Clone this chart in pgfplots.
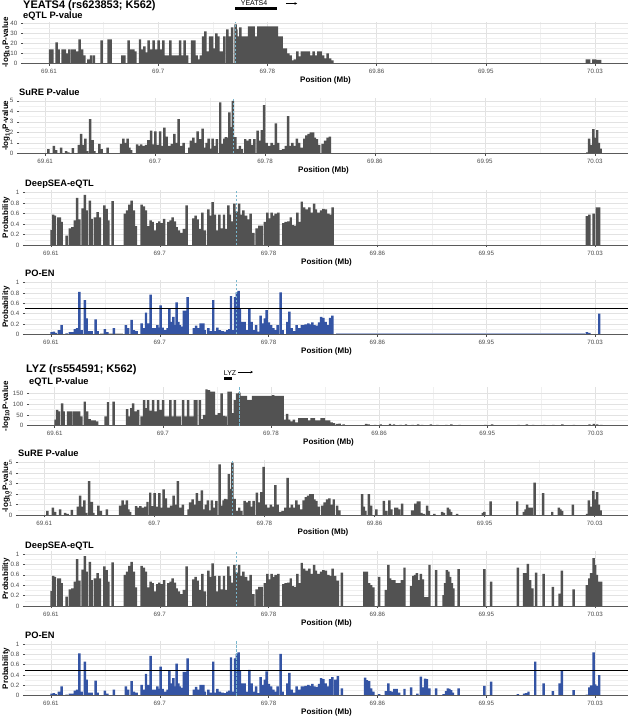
\documentclass[border=0pt]{standalone}
\usepackage{fontspec}
\setmainfont{Liberation Sans}
\usepackage{pgfplots}
\usepackage{pgfplotstable}
\pgfplotsset{compat=1.18}
\usetikzlibrary{arrows.meta}

\definecolor{bargray}{RGB}{82,82,82}
\definecolor{poblue}{RGB}{52,84,164}
\definecolor{gridmaj}{RGB}{226,226,226}
\definecolor{gridmin}{RGB}{240,240,240}
\definecolor{tickcol}{RGB}{77,77,77}
\definecolor{dashcol}{RGB}{120,182,205}
\definecolor{axcol}{RGB}{90,90,90}

% ---------------- eQTL YEATS4 ----------------
\pgfplotstableread{
x y
69.6108 14
69.6126 14
69.6159 21
69.6175 14
69.6205 14
69.6223 14
69.6241 10
69.6257 14
69.6280 14
69.6298 14
69.6318 12
69.6336 24
69.6354 14
69.6372 8
69.6403 4
69.6423 8
69.6446 8
69.6505 23
69.6559 24
69.6575 24
69.6664 8
69.6680 8
69.6713 23
69.6728 14
69.6749 14
69.6764 12
69.6800 24
69.6816 14
69.6834 17
69.6852 11
69.6867 23
69.6885 14
69.6905 23
69.6923 14
69.6944 23
69.6964 14
69.6980 23
69.6998 8
69.7016 8
69.7034 23
69.7052 8
69.7069 8
69.7087 8
69.7108 23
69.7128 8
69.7144 23
69.7162 8
69.7200 23
69.7218 23
69.7236 8
69.7254 4
69.7269 8
69.7285 27
69.7303 32
69.7321 12
69.7339 27
69.7354 27
69.7369 15
69.7387 30
69.7403 27
69.7418 12
69.7436 12
69.7449 27
69.7472 34
69.7490 27
69.7508 36
69.7535 39
69.7541 34
69.7557 27
69.7572 36
69.7590 27
69.7605 27
69.7621 27
69.7639 37
69.7657 37
69.7675 37
69.7693 27
69.7710 37
69.7728 37
69.7746 37
69.7764 37
69.7782 37
69.7800 37
69.7818 37
69.7836 37
69.7854 37
69.7872 27
69.7890 27
69.7905 15
69.7923 15
69.7941 10
69.7959 8
69.7975 3
69.7992 4
69.8010 12
69.8028 7
69.8046 12
69.8064 12
69.8082 12
69.8100 12
69.8118 8
69.8136 12
69.8154 8
69.8172 12
69.8190 12
69.8208 8
69.8226 5
69.8244 10
69.8262 5
69.8280 3
70.0237 4
70.0255 4
70.0288 4
70.0301 4
70.0320 3.5
70.0340 3.5
}\eqtlY

% ---------------- eQTL LYZ ----------------
\pgfplotstableread{
x y
69.6107 28
69.6118 73
69.6133 66
69.6157 104
69.6170 66
69.6203 66
69.6224 66
69.6247 66
69.6268 66
69.6289 66
69.6307 43
69.6333 112
69.6351 66
69.6372 31
69.6393 25
69.6411 25
69.6429 20
69.6496 43
69.6514 109
69.6558 112
69.6662 77
69.6678 43
69.6696 81
69.6709 104
69.6727 66
69.6748 73
69.6774 43
69.6794 119
69.6807 81
69.6825 119
69.6844 70
69.6864 119
69.6882 66
69.6903 119
69.6921 73
69.6942 119
69.6963 43
69.6981 43
69.6999 119
69.7015 43
69.7033 119
69.7051 43
69.7072 43
69.7098 119
69.7116 43
69.7136 119
69.7155 43
69.7170 43
69.7188 119
69.7201 119
69.7227 119
69.7248 31
69.7261 50
69.7279 168
69.7297 165
69.7318 158
69.7336 158
69.7357 50
69.7375 58
69.7396 150
69.7414 46
69.7427 43
69.7450 158
69.7466 158
69.7481 58
69.7499 119
69.7517 150
69.7535 153
69.7551 138
69.7569 138
69.7585 138
69.7603 119
69.7621 119
69.7642 138
69.7663 138
69.7681 138
69.7699 138
69.7720 138
69.7740 138
69.7759 138
69.7777 138
69.7797 142
69.7816 138
69.7834 138
69.7854 138
69.7870 138
69.7888 28
69.7906 55
69.7922 28
69.7940 20
69.7958 28
69.7979 15
69.8000 35
69.8018 35
69.8036 35
69.8057 35
69.8077 25
69.8095 35
69.8114 35
69.8134 25
69.8155 25
69.8173 35
69.8191 35
69.8212 25
69.8233 25
69.8251 15
69.8269 12
69.8293 9
69.8314 10
69.8345 6
69.8520 8
69.8538 6
69.8589 4
69.8633 6
69.8705 8
69.8736 6
69.8787 4
69.8829 6
69.8880 4
69.8924 6
69.8955 4
69.9022 6
69.9073 4
69.9143 4
69.9181 6
69.9246 4
69.9446 4
69.9498 6
69.9704 4
69.9768 6
69.9817 4
69.9902 4
69.9974 4
70.0044 6
70.0134 4
70.0255 6
70.0288 8
70.0314 6
70.0347 4
}\eqtlL

% ---------------- SuRE (shared left part) ----------------
\pgfplotstableread{
x y
69.6125 0.4
69.6166 0.7
69.6184 0.3
69.6222 0.55
69.6260 0.2
69.6278 0.1
69.6311 0.5
69.6357 0.8
69.6374 1.85
69.6390 0.8
69.6407 1.4
69.6420 0.2
69.6443 3.25
69.6463 1.25
69.6476 0.2
69.6514 0.9
69.6532 0.4
69.6578 0.55
69.6680 0.9
69.6698 1.4
69.6713 1.0
69.6731 1.4
69.6743 0.55
69.6756 0.3
69.6802 0.85
69.6820 0.7
69.6833 0.85
69.6853 0.7
69.6871 0.8
69.6888 1.25
69.6909 2.15
69.6927 0.85
69.6942 2.1
69.6960 0.8
69.6978 2.1
69.6990 0.7
69.7011 2.45
69.7028 1.6
69.7049 0.7
69.7069 0.9
69.7087 1.85
69.7105 1.0
69.7120 3.25
69.7138 0.7
69.7158 1.0
69.7202 0.55
69.7214 1.2
69.7232 1.5
69.7247 1.0
69.7265 2.1
69.7286 1.35
69.7303 2.35
69.7316 0.55
69.7334 1.0
69.7349 1.4
69.7367 0.45
69.7380 1.4
69.7397 0.7
69.7413 1.35
69.7438 4.85
69.7456 0.9
69.7469 1.4
69.7481 1.55
69.7494 1.5
69.7508 3.9
69.7521 2.5
69.7535 5.0
69.7553 1.55
69.7571 0.4
69.7588 0.7
69.7604 0.4
69.7629 1.35
69.7647 1.2
69.7665 1.35
69.7677 0.8
69.7698 1.35
69.7723 2.15
69.7741 1.2
69.7756 2.2
69.7774 4.6
69.7792 1.0
69.7812 0.7
69.7830 1.0
69.7845 0.8
69.7863 2.85
69.7881 1.0
69.7901 0.3
69.7919 0.4
69.7940 0.7
69.7957 3.55
69.7973 0.7
69.7990 1.0
69.8008 0.7
69.8024 1.4
69.8041 1.0
69.8059 0.55
69.8080 1.4
69.8097 1.7
69.8113 1.85
69.8130 2.0
69.8148 2.0
69.8161 1.5
69.8176 1.35
69.8194 0.8
69.8220 0.9
69.8240 1.2
69.8258 1.5
69.8276 1.6
}\sureA

\pgfplotstableread{
x y
69.8291 1.0
69.8309 1.5
69.8334 0.9
69.8352 0.45
69.8525 2.0
69.8538 0.8
69.8551 0.4
69.8577 2.0
69.8594 0.9
69.8635 0.55
69.8691 1.35
69.8710 0.4
69.8734 1.4
69.8749 0.55
69.8780 0.7
69.8792 0.7
69.8808 0.55
69.8831 1.1
69.8907 0.45
69.8920 0.45
69.8932 1.1
69.8950 1.3
69.8963 1.3
69.8978 0.2
69.8996 0.1
69.9021 0.9
69.9034 0.4
69.9077 0.1
69.9136 0.3
69.9149 0.2
69.9179 0.7
69.9192 0.55
69.9205 0.3
69.9250 0.1
69.9446 0.2
69.9459 0.3
69.9505 1.3
69.9709 1.3
69.9759 0.3
69.9772 0.55
69.9785 1.0
69.9805 0.7
69.9818 0.7
69.9841 3.1
69.9907 2.1
69.9976 0.3
70.0027 0.7
70.0039 0.55
70.0052 0.4
70.0134 1.0
}\sureB

\pgfplotstableread{
x y
70.0243 0.1
70.0256 1.4
70.0274 0.8
70.0289 2.3
70.0307 1.5
70.0319 2.2
70.0332 1.0
70.0345 0.45
}\sureC

% ---------------- DeepSEA ----------------
\pgfplotstableread{
x y
69.6105 0.29
69.6118 0.58
69.6131 0.56
69.6157 0.53
69.6169 0.53
69.6182 0.44
69.6221 0.18
69.6247 0.32
69.6265 0.34
69.6285 0.47
69.6303 0.90
69.6319 0.49
69.6344 0.70
69.6362 0.96
69.6375 0.66
69.6401 0.85
69.6414 0.50
69.6440 0.53
69.6460 0.63
69.6478 0.53
69.6512 0.76
69.6530 0.69
69.6543 0.47
69.6576 0.84
69.6671 0.60
69.6689 0.66
69.6705 0.77
69.6723 0.85
69.6741 0.66
69.6756 0.36
69.6800 0.77
69.6818 0.74
69.6834 0.66
69.6852 0.36
69.6870 0.47
69.6885 0.44
69.6903 0.28
69.6921 0.42
69.6936 0.45
69.6955 0.42
69.6973 0.50
69.7006 0.44
69.7024 0.47
69.7039 0.53
69.7057 0.45
69.7070 0.34
69.7088 0.28
69.7109 0.23
69.7127 0.31
69.7148 0.76
69.7199 0.51
69.7217 0.56
69.7233 0.49
69.7251 0.31
69.7269 0.62
69.7289 0.28
69.7315 0.68
69.7333 0.56
69.7348 0.82
69.7366 0.58
69.7384 0.28
69.7400 0.58
69.7418 0.32
69.7436 0.58
69.7451 0.31
69.7469 0.76
69.7482 0.58
69.7500 0.45
69.7516 0.79
69.7534 0.64
69.7552 0.79
69.7567 0.58
69.7585 0.66
69.7606 0.56
69.7624 0.49
69.7642 0.60
69.7662 0.23
69.7688 0.32
69.7709 0.37
69.7727 0.37
69.7752 0.44
69.7770 0.62
69.7786 0.51
69.7804 0.62
69.7817 0.56
69.7835 0.60
69.7855 0.62
69.7894 0.42
69.7912 0.44
69.7933 0.45
69.7951 0.53
69.7966 0.38
69.7984 0.37
69.8002 0.62
69.8018 0.44
69.8036 0.83
69.8054 0.72
69.8074 0.68
69.8095 0.72
69.8113 0.62
69.8131 0.79
69.8146 0.68
69.8164 0.62
69.8185 0.66
69.8203 0.69
69.8223 0.68
69.8242 0.60
69.8260 0.58
69.8275 0.72
}\deepA

\pgfplotstableread{
x y
69.8293 0.58
69.8314 0.49
69.8345 0.64
69.8520 0.66
69.8538 0.66
69.8556 0.44
69.8571 0.40
69.8589 0.36
69.8633 0.56
69.8685 0.31
69.8705 0.79
69.8718 0.53
69.8736 0.50
69.8751 0.50
69.8769 0.44
69.8787 0.44
69.8808 0.50
69.8829 0.74
69.8880 0.38
69.8898 0.58
69.8911 0.60
69.8924 0.63
69.8937 0.50
69.8955 0.62
69.8970 0.51
69.8988 0.17
69.9001 0.17
69.9022 0.79
69.9073 0.69
69.9130 0.21
69.9143 0.44
69.9156 0.69
69.9168 0.66
69.9181 0.56
69.9194 0.44
69.9207 0.34
69.9246 0.71
69.9446 0.71
69.9498 0.47
69.9704 0.74
69.9753 0.63
69.9768 0.63
69.9781 0.81
69.9799 0.50
69.9817 0.34
69.9845 0.64
69.9902 0.62
69.9974 0.37
70.0026 0.24
70.0044 0.68
70.0134 0.32
70.0237 0.40
70.0255 0.53
70.0270 0.63
70.0288 0.92
70.0301 0.79
70.0314 0.60
70.0332 0.47
70.0347 0.47
}\deepB

\pgfplotstableread{
x y
70.0237 0.55
70.0255 0.58
70.0288 0.60
70.0314 0.72
70.0332 0.72
}\deepYC

% ---------------- PO-EN ----------------
\pgfplotstableread{
x y
69.6105 0.04
69.6123 0.05
69.6136 0.03
69.6162 0.08
69.6182 0.18
69.6221 0.02
69.6247 0.04
69.6265 0.04
69.6285 0.10
69.6303 0.12
69.6319 0.82
69.6337 0.08
69.6362 0.66
69.6375 0.31
69.6393 0.06
69.6414 0.06
69.6445 0.29
69.6460 0.06
69.6517 0.10
69.6535 0.04
69.6586 0.12
69.6679 0.18
69.6697 0.12
69.6723 0.28
69.6741 0.08
69.6761 0.06
69.6800 0.21
69.6818 0.12
69.6834 0.42
69.6852 0.21
69.6870 0.77
69.6885 0.12
69.6903 0.12
69.6921 0.18
69.6936 0.13
69.6947 0.56
69.6962 0.13
69.6980 0.08
69.7001 0.12
69.7014 0.49
69.7027 0.24
69.7045 0.34
69.7057 0.18
69.7070 0.62
69.7083 0.24
69.7096 0.18
69.7109 0.15
69.7127 0.46
69.7140 0.46
69.7155 0.72
69.7204 0.12
69.7220 0.17
69.7238 0.12
69.7256 0.21
69.7276 0.21
69.7289 0.08
69.7315 0.12
69.7333 0.06
69.7353 0.66
69.7366 0.06
69.7384 0.13
69.7405 0.08
69.7426 0.06
69.7444 0.05
69.7462 0.08
69.7477 0.10
69.7490 0.74
69.7508 0.08
69.7521 0.72
69.7535 0.81
69.7549 0.84
69.7559 0.49
69.7577 0.24
69.7595 0.24
69.7611 0.08
69.7631 0.50
69.7649 0.24
69.7662 0.08
69.7683 0.18
69.7701 0.05
69.7719 0.36
69.7734 0.21
69.7752 0.31
69.7765 0.47
69.7783 0.23
69.7799 0.18
69.7817 0.12
69.7835 0.08
69.7850 0.18
69.7873 0.81
69.7889 0.08
69.7925 0.24
69.7940 0.44
69.7958 0.12
69.7976 0.06
69.7997 0.18
69.8015 0.12
69.8036 0.18
69.8048 0.18
69.8066 0.19
69.8087 0.21
69.8100 0.19
69.8118 0.23
69.8133 0.18
69.8151 0.17
69.8169 0.23
69.8185 0.34
69.8203 0.32
69.8221 0.24
69.8236 0.18
69.8254 0.32
69.8272 0.36
}\poA

\pgfplotstableread{
x y
69.8293 0.31
69.8314 0.38
69.8345 0.14
69.8525 0.35
69.8538 0.30
69.8556 0.28
69.8571 0.14
69.8589 0.08
69.8633 0.03
69.8685 0.09
69.8705 0.24
69.8718 0.09
69.8736 0.08
69.8751 0.13
69.8769 0.13
69.8787 0.06
69.8829 0.13
69.8880 0.16
69.8929 0.04
69.8955 0.37
69.8970 0.16
69.8988 0.33
69.9001 0.32
69.9022 0.14
69.9073 0.14
69.9130 0.03
69.9150 0.09
69.9163 0.14
69.9176 0.13
69.9189 0.11
69.9202 0.06
69.9246 0.14
69.9446 0.19
69.9498 0.27
69.9704 0.03
69.9753 0.04
69.9768 0.05
69.9786 0.08
69.9838 0.66
69.9902 0.24
69.9974 0.09
70.0026 0.24
70.0044 0.49
70.0134 0.11
70.0237 0.02
70.0255 0.16
70.0270 0.20
70.0288 0.84
70.0301 0.22
70.0314 0.19
70.0332 0.40
}\poB

\pgfplotstableread{
x y
70.0237 0.04
70.0255 0.03
70.0332 0.40
}\poYC

\pgfplotsset{
 panel/.style={
  scale only axis,
  xmin=69.59, xmax=70.0554, ymin=0,
  axis line style={draw=none},
  tick pos=left, tick align=outside,
  major tick length=2.2pt, minor tick length=0pt,
  every tick/.style={tickcol, line width=0.5pt},
  xtick={69.61,69.694,69.778,69.862,69.946,70.03},
  xticklabels={69.61,69.7,69.78,69.86,69.95,70.03},
  minor x tick num=1, minor y tick num=1,
  xmajorgrids, ymajorgrids, xminorgrids, yminorgrids,
  major grid style={gridmaj, line width=0.5pt},
  minor grid style={gridmin, line width=0.4pt},
  ticklabel style={font=\fontsize{6.2}{7}\selectfont, text=tickcol},
  /pgf/number format/assume math mode=true,
  xlabel={Position (Mb)},
  xlabel style={at={(axis description cs:0.5,0)}, anchor=center, yshift=-17pt,
    font=\bfseries\fontsize{8}{9}\selectfont, inner sep=0pt},
  every axis title/.style={at={(axis description cs:0,1)}, anchor=base west, inner sep=0pt,
    yshift=3.2pt, font=\bfseries\fontsize{9.3}{10}\selectfont},
  every axis y label/.style={rotate=90, anchor=center,
    font=\bfseries\fontsize{8}{9}\selectfont, inner sep=0pt},
  clip=false,
 },
 probaxis/.style={ymax=1.05, ytick={0,0.2,0.4,0.6,0.8,1}, ylabel={Probability}},
 sureaxis/.style={ymax=5.25, ytick={0,1,2,3,4,5}, ylabel={-log\textsubscript{10}P-value}},
 gbars/.style={ybar, bar width=0.0019, bar shift=0pt, draw=none, fill=bargray},
 bbars/.style={ybar, bar width=0.0019, bar shift=0pt, draw=none, fill=poblue},
 lead/.style={dashcol, dash pattern=on 2.5pt off 1.5pt, line width=0.7pt},
 base/.style={axcol, line width=0.6pt},
}

\begin{document}
\begin{tikzpicture}
\fill[white] (0pt,0pt) rectangle (629pt,-718pt);
\useasboundingbox (0pt,0pt) rectangle (629pt,-718pt);

% ===== Panel 1: eQTL YEATS4 =====
\begin{axis}[panel, at={(23pt,-63.3pt)}, anchor=south west, width=605pt, height=41.5pt,
  ymax=41.5, ytick={0,10,20,30,40}, title={eQTL P-value},
  ylabel={-log\textsubscript{10}P-value}, ylabel style={at={(axis description cs:-0.0281,0.5)}}]
\addplot[gbars] table {\eqtlY};
\addplot[base] coordinates {(69.59,0) (70.0554,0)};
\addplot[lead] coordinates {(69.7535,0) (69.7535,41.5)};
\addplot[black, line width=3.3pt] coordinates {(69.7531,55) (69.7854,55)};
\addplot[black, line width=0.5pt, -{Stealth[length=2.5pt,width=2.5pt]}] coordinates {(69.7923,59.8) (69.8008,59.8)};
\node[font=\fontsize{7}{8}\selectfont, inner sep=0pt] at (axis cs:69.7677,60.1) {YEATS4};
\node[anchor=base west, inner sep=0pt, yshift=13.4pt, font=\bfseries\fontsize{11}{12}\selectfont] at (rel axis cs:0,1) {YEATS4 (rs623853; K562)};
\end{axis}

% ===== Panel 2: SuRE YEATS4 =====
\begin{axis}[panel, sureaxis, at={(19pt,-153.3pt)}, anchor=south west, width=609pt, height=55.1pt,
  title={SuRE P-value}, ylabel style={at={(axis description cs:-0.0213,0.5)}}]
\addplot[gbars] table {\sureA};
\addplot[gbars] table {\sureC};
\addplot[base] coordinates {(69.59,0) (70.0554,0)};
\addplot[lead] coordinates {(69.7535,0) (69.7535,5.25)};
\end{axis}

% ===== Panel 3: DeepSEA YEATS4 =====
\begin{axis}[panel, probaxis, at={(25pt,-245pt)}, anchor=south west, width=603pt, height=54.9pt,
  title={DeepSEA-eQTL}, ylabel style={at={(axis description cs:-0.0315,0.5)}}]
\addplot[gbars] table {\deepA};
\addplot[gbars] table {\deepYC};
\addplot[base] coordinates {(69.59,0) (70.0554,0)};
\addplot[lead] coordinates {(69.7535,0) (69.7535,1.05)};
\end{axis}

% ===== Panel 4: PO-EN YEATS4 =====
\begin{axis}[panel, probaxis, at={(25pt,-334.3pt)}, anchor=south west, width=603pt, height=54.2pt,
  title={PO-EN}, ylabel style={at={(axis description cs:-0.0315,0.5)}}]
\addplot[gray!45, line width=1pt] coordinates {(69.648,0.006) (69.666,0.006)};
\addplot[poblue!45, line width=1pt] coordinates {(69.8300,0.006) (70.0225,0.006)};
\addplot[bbars] table {\poA};
\addplot[bbars] table {\poYC};
\addplot[base] coordinates {(69.59,0) (70.0554,0)};
\addplot[lead] coordinates {(69.7535,0) (69.7535,1.05)};
\addplot[black, line width=0.6pt] coordinates {(69.59,0.5) (70.0554,0.5)};
\end{axis}

% ===== Panel 5: eQTL LYZ =====
\begin{axis}[panel, at={(29pt,-425.7pt)}, anchor=south west, width=599pt, height=38.4pt,
  ymax=178, ytick={0,50,100,150}, title={eQTL P-value},
  ylabel={-log\textsubscript{10}P-value}, ylabel style={at={(axis description cs:-0.0384,0.5)}}]
\addplot[gbars] table {\eqtlL};
\addplot[base] coordinates {(69.59,0) (70.0554,0)};
\addplot[lead] coordinates {(69.7535,0) (69.7535,178)};
\addplot[black, line width=3.3pt] coordinates {(69.7417,219.4) (69.7478,219.4)};
\addplot[black, line width=0.5pt, -{Stealth[length=2.5pt,width=2.5pt]}] coordinates {(69.7524,248.6) (69.7640,248.6)};
\node[font=\fontsize{7}{8}\selectfont, inner sep=0pt] at (axis cs:69.7462,244) {LYZ};
\node[anchor=base west, inner sep=0pt, xshift=-3pt, yshift=15pt, font=\bfseries\fontsize{11}{12}\selectfont] at (rel axis cs:0,1) {LYZ (rs554591; K562)};
\end{axis}

% ===== Panel 6: SuRE LYZ =====
\begin{axis}[panel, sureaxis, at={(18pt,-515pt)}, anchor=south west, width=610pt, height=54.9pt,
  title={SuRE P-value}, ylabel style={at={(axis description cs:-0.0197,0.5)}}]
\addplot[gbars] table {\sureA};
\addplot[gbars] table {\sureB};
\addplot[gbars] table {\sureC};
\addplot[base] coordinates {(69.59,0) (70.0554,0)};
\addplot[lead] coordinates {(69.7535,0) (69.7535,5.25)};
\end{axis}

% ===== Panel 7: DeepSEA LYZ =====
\begin{axis}[panel, probaxis, at={(25pt,-606pt)}, anchor=south west, width=603pt, height=54.6pt,
  title={DeepSEA-eQTL}, ylabel style={at={(axis description cs:-0.0315,0.5)}}]
\addplot[gbars] table {\deepA};
\addplot[gbars] table {\deepB};
\addplot[base] coordinates {(69.59,0) (70.0554,0)};
\addplot[lead] coordinates {(69.7535,0) (69.7535,1.05)};
\end{axis}

% ===== Panel 8: PO-EN LYZ =====
\begin{axis}[panel, probaxis, at={(25pt,-695.7pt)}, anchor=south west, width=603pt, height=54.3pt,
  title={PO-EN}, ylabel style={at={(axis description cs:-0.0315,0.5)}}]
\addplot[gray!45, line width=1pt] coordinates {(69.648,0.006) (69.666,0.006)};
\addplot[bbars] table {\poA};
\addplot[bbars] table {\poB};
\addplot[base] coordinates {(69.59,0) (70.0554,0)};
\addplot[lead] coordinates {(69.7535,0) (69.7535,1.05)};
\addplot[black, line width=0.6pt] coordinates {(69.59,0.5) (70.0554,0.5)};
\end{axis}
\end{tikzpicture}
\end{document}
